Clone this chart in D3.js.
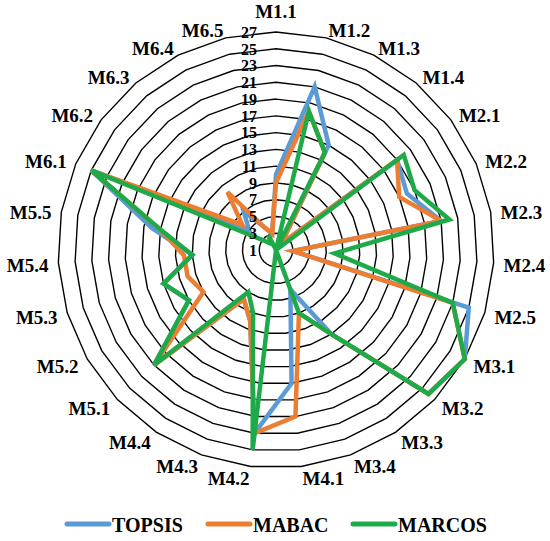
<!DOCTYPE html>
<html>
<head>
<meta charset="utf-8">
<script src="https://cdn.jsdelivr.net/npm/d3@7"></script>
<style>
  body { margin: 0; background: #fff; }
  text { font-family: "Liberation Serif", "Times New Roman", serif; font-weight: bold; fill: #000; }
</style>
</head>
<body>
<script>
// Données (rangs)
const criteria = ["M1.1", "M1.2", "M1.3", "M1.4", "M2.1", "M2.2", "M2.3", "M2.4", "M2.5",
  "M3.1", "M3.2", "M3.3", "M3.4", "M4.1", "M4.2", "M4.3", "M4.4",
  "M5.1", "M5.2", "M5.3", "M5.4", "M5.5", "M6.1", "M6.2", "M6.3", "M6.4", "M6.5"];

const topsis = [10, 21, 15, 2, 19, 18, 21, 3, 25, 27, 26, 13, 6, 17, 23, 10, 8, 21, 13, 15, 11, 16, 25, 5, 7, 4, 3];
const mabac  = [9, 18, 14, 2, 19, 17, 21, 3, 23, 27, 26, 13, 9, 21, 23, 10, 8, 21, 11, 12, 12, 15, 25, 6, 10, 4, 3];
const marcos = [1, 18, 14, 1, 20, 19, 22, 8, 23, 27, 26, 13, 9, 1, 25, 9, 7, 21, 13, 15, 11, 15, 25, 3, 2, 3, 1];

const ticks = [1, 3, 5, 7, 9, 11, 13, 15, 17, 19, 21, 23, 25, 27];

const series = [
  { name: "TOPSIS", values: topsis, color: "#5B9BD5" },
  { name: "MABAC", values: mabac, color: "#ED7D31" },
  { name: "MARCOS", values: marcos, color: "#1FAA4A" }
];

const width = 550;
const height = 541;
const cx = 276;
const cy = 250;
const R = 218;

const svg = d3.select("body").append("svg")
  .attr("width", width)
  .attr("height", height);

const r = d3.scaleLinear().domain([1, 27]).range([0, R]);
const angle = d3.scalePoint().domain(criteria).range([0, 2 * Math.PI * (criteria.length - 1) / criteria.length]);

const g = svg.append("g").attr("transform", "translate(" + cx + "," + cy + ")");

const radial = d3.lineRadial()
  .angle((d, i) => angle(criteria[i]))
  .radius(d => r(d))
  .curve(d3.curveLinearClosed);

// grille polygonale
g.append("g")
  .selectAll("path")
  .data(ticks.filter(t => t > 1))
  .enter()
  .append("path")
  .attr("d", t => radial(criteria.map(() => t)))
  .attr("fill", "none")
  .attr("stroke", "#000")
  .attr("stroke-width", 1.4);

// séries
g.append("g")
  .selectAll("path")
  .data(series)
  .enter()
  .append("path")
  .attr("d", d => radial(d.values))
  .attr("fill", "none")
  .attr("stroke", d => d.color)
  .attr("stroke-width", 4.5)
  .attr("stroke-linejoin", "miter");

// étiquettes de l'axe radial
g.append("g")
  .selectAll("text")
  .data(ticks)
  .enter()
  .append("text")
  .attr("x", -19)
  .attr("y", t => -r(t))
  .attr("dy", "0.36em")
  .attr("text-anchor", "end")
  .style("font-size", "16px")
  .text(t => t);

// étiquettes des critères
g.append("g")
  .selectAll("text")
  .data(criteria)
  .enter()
  .append("text")
  .each(function (c) {
    const a = angle(c);
    const s = Math.sin(a), k = Math.cos(a);
    const rr = R + 10;
    const t = d3.select(this)
      .attr("x", rr * s)
      .attr("y", -rr * k)
      .style("font-size", "19px")
      .text(c);
    if (Math.abs(s) < 0.01) {
      t.attr("text-anchor", "middle").attr("dy", "-0.2em");
    } else {
      t.attr("text-anchor", s > 0 ? "start" : "end").attr("dy", "0.45em");
    }
  });

// légende
const legend = svg.append("g")
  .selectAll("g")
  .data(series)
  .enter()
  .append("g")
  .attr("transform", (d, i) => "translate(" + [67, 208, 353][i] + ",524)");

legend.append("line")
  .attr("x1", 0).attr("x2", 42)
  .attr("stroke", d => d.color)
  .attr("stroke-width", 5)
  .attr("stroke-linecap", "round");

legend.append("text")
  .attr("x", 45)
  .attr("dy", "0.38em")
  .style("font-size", "20px")
  .text(d => d.name);
</script>
</body>
</html>
